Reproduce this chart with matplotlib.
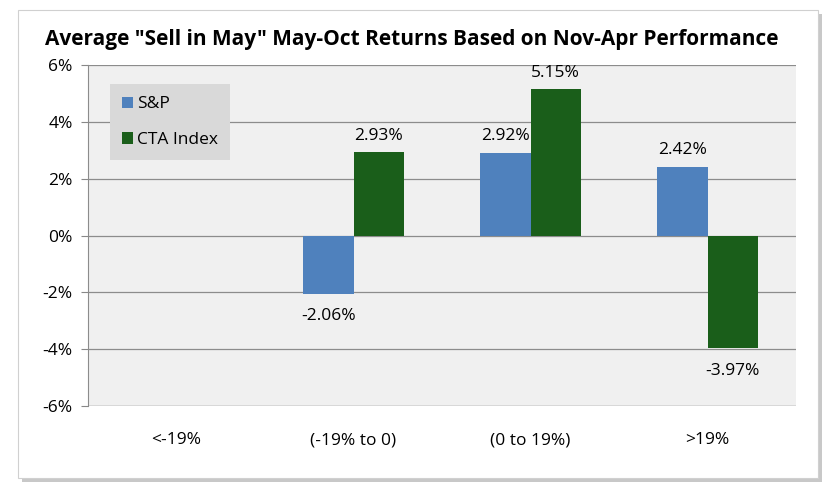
import matplotlib.pyplot as plt
from matplotlib.patches import Rectangle
import numpy as np

categories = ["<-19%", "(-19% to 0)", "(0 to 19%)", ">19%"]
sp_values = [np.nan, -2.06, 2.92, 2.42]
cta_values = [np.nan, 2.93, 5.15, -3.97]
series_names = ["S&P", "CTA Index"]

plt.rcParams['font.family'] = ['Open Sans', 'DejaVu Sans']

fig = plt.figure(figsize=(8.36, 4.93), dpi=100)
fig.patch.set_facecolor("white")

# card with shadow
fig.patches.append(Rectangle((22 / 836, 1 - 482 / 493), 800 / 836, 468 / 493,
                             transform=fig.transFigure, facecolor="#c8c8c8",
                             edgecolor="none", zorder=-3))
fig.patches.append(Rectangle((18 / 836, 1 - 478 / 493), 800 / 836, 468 / 493,
                             transform=fig.transFigure, facecolor="white",
                             edgecolor="#d0d0d0", linewidth=0.8, zorder=-2))

ax = fig.add_axes([88 / 836, 1 - 406 / 493, 708 / 836, 341 / 493])
ax.set_facecolor("#f0f0f0")

x = np.arange(len(categories))
w = 0.2857
sp_col = "#4f81bd"
cta_col = "#1a5e1a"
ax.bar(x - w / 2, sp_values, w, color=sp_col, label=series_names[0], zorder=3)
ax.bar(x + w / 2, cta_values, w, color=cta_col, label=series_names[1], zorder=3)

fs = 12.5
for pos, vals in [(x - w / 2, sp_values), (x + w / 2, cta_values)]:
    for xi, v in zip(pos, vals):
        if np.isnan(v):
            continue
        if v > 0:
            ax.text(xi, v + 0.3, f"{v:.2f}%", ha="center", va="bottom", fontsize=fs)
        else:
            ax.text(xi, v - 0.5, f"{v:.2f}%", ha="center", va="top", fontsize=fs)

ax.set_xlim(-0.5, 3.5)
ax.set_ylim(-6, 6)
ax.set_yticks(range(-6, 7, 2))
ax.set_yticklabels([f"{t}%" for t in range(-6, 7, 2)], fontsize=fs)
ax.set_xticks(x)
ax.set_xticklabels(categories, fontsize=fs)
ax.tick_params(axis="x", length=0, pad=19)
ax.tick_params(axis="y", length=5, color="#888888", pad=6)
ax.grid(axis="y", color="#8c8c8c", linewidth=0.9, zorder=1)
for s in ["top", "right", "bottom"]:
    ax.spines[s].set_visible(False)
ax.spines["left"].set_color("#8c8c8c")
ax.axhline(-6, color="#8c8c8c", linewidth=0.9, zorder=2)

leg = ax.legend(loc="upper left", bbox_to_anchor=(22 / 708, 1 - 19 / 341), fontsize=fs,
                frameon=True, fancybox=False, handlelength=0.6, handleheight=0.6,
                handletextpad=0.25, labelspacing=1.15, borderpad=0.7,
                borderaxespad=0.0)
leg.get_frame().set_facecolor("#d9d9d9")
leg.get_frame().set_edgecolor("none")
leg.get_frame().set_alpha(1)

fig.text(412 / 836, 1 - 40 / 493, 'Average "Sell in May" May-Oct Returns Based on Nov-Apr Performance',
         ha="center", va="center", fontsize=15.0, fontweight="bold")

fig.savefig("out.png", dpi=100)
